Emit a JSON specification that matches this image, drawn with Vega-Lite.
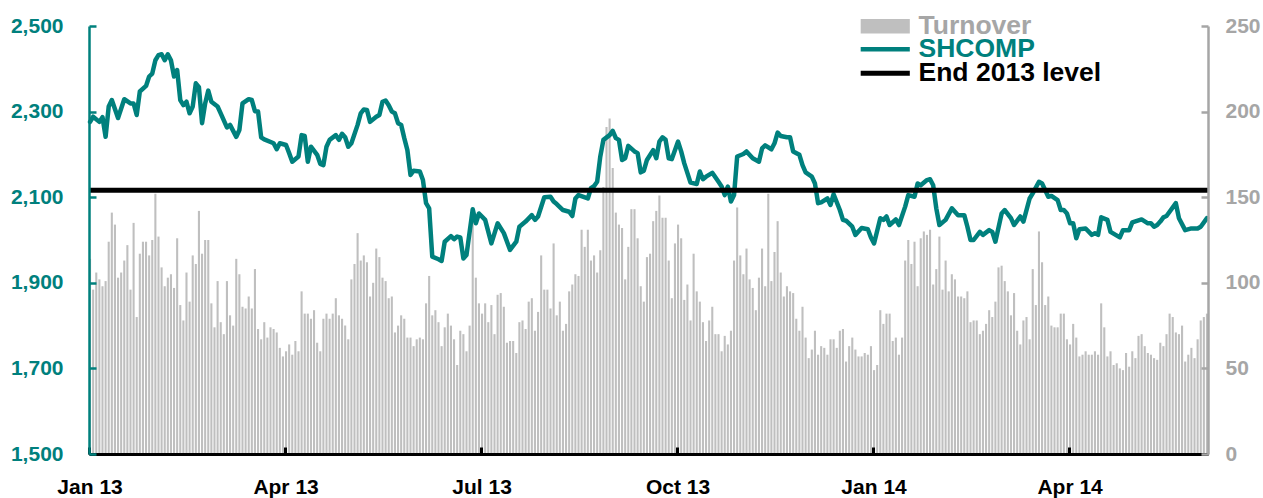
{
"$schema": "https://vega.github.io/schema/vega-lite/v6.json",
"width": 1119,
"height": 428,
"autosize": {"type": "none"},
"padding": {"left": 89, "top": 26, "right": 55, "bottom": 44},
"background": "#ffffff",
"config": {"view": {"stroke": null}, "font": "Liberation Sans",
"legend": {"title": null, "orient": "none", "padding": 0, "symbolSize": 256, "labelFont": "Liberation Sans", "labelFontSize": 26.5, "labelFontWeight": "bold", "labelOffset": 20, "labelLimit": 400}},
"datasets": {
"level": [{"label": "End 2013 level", "value": 2116}],
"daily": [
{"d":"2013-01-04","t":114,"s":2276},{"d":"2013-01-07","t":96,"s":2288},{"d":"2013-01-08","t":106},{"d":"2013-01-09","t":102,"s":2276},{"d":"2013-01-10","t":98,"s":2287},
{"d":"2013-01-11","t":101,"s":2241},{"d":"2013-01-14","t":124,"s":2312},{"d":"2013-01-15","t":141,"s":2327},{"d":"2013-01-16","t":134},{"d":"2013-01-17","t":103,"s":2285},
{"d":"2013-01-18","t":106},{"d":"2013-01-21","t":113,"s":2329},{"d":"2013-01-22","t":122},{"d":"2013-01-23","t":96,"s":2319},{"d":"2013-01-24","t":135,"s":2319},
{"d":"2013-01-25","t":80,"s":2292},{"d":"2013-01-28","t":117,"s":2347},{"d":"2013-01-29","t":124},{"d":"2013-01-30","t":124,"s":2360},{"d":"2013-01-31","t":116,"s":2382},
{"d":"2013-02-01","t":125,"s":2389},{"d":"2013-02-04","t":152,"s":2420},{"d":"2013-02-05","t":127,"s":2432},{"d":"2013-02-06","t":109,"s":2434},{"d":"2013-02-07","t":98,"s":2420},
{"d":"2013-02-08","t":103,"s":2434},{"d":"2013-02-18","t":105,"s":2420},{"d":"2013-02-19","t":97,"s":2382},{"d":"2013-02-20","t":126,"s":2397},{"d":"2013-02-21","t":87,"s":2327},
{"d":"2013-02-22","t":78,"s":2315},{"d":"2013-02-25","t":106,"s":2323},{"d":"2013-02-26","t":89,"s":2296},{"d":"2013-02-27","t":116,"s":2312},{"d":"2013-02-28","t":111,"s":2366},
{"d":"2013-03-01","t":142,"s":2357},{"d":"2013-03-04","t":117,"s":2273},{"d":"2013-03-05","t":125,"s":2319},{"d":"2013-03-06","t":125,"s":2349},{"d":"2013-03-07","t":88,"s":2323},
{"d":"2013-03-08","t":74},{"d":"2013-03-11","t":101,"s":2312},{"d":"2013-03-12","t":77,"s":2296},{"d":"2013-03-13","t":70},{"d":"2013-03-14","t":101,"s":2263},
{"d":"2013-03-15","t":81,"s":2269},{"d":"2013-03-18","t":75},{"d":"2013-03-19","t":114,"s":2241},{"d":"2013-03-20","t":105,"s":2257},{"d":"2013-03-21","t":86,"s":2319},
{"d":"2013-03-22","t":85},{"d":"2013-03-25","t":92,"s":2329},{"d":"2013-03-26","t":85,"s":2327},{"d":"2013-03-27","t":108,"s":2301},{"d":"2013-03-28","t":73,"s":2300},
{"d":"2013-03-29","t":67,"s":2240},{"d":"2013-04-01","t":77,"s":2235},{"d":"2013-04-02","t":68},{"d":"2013-04-03","t":74},{"d":"2013-04-08","t":73,"s":2226},
{"d":"2013-04-09","t":71,"s":2212},{"d":"2013-04-10","t":62,"s":2226},{"d":"2013-04-11","t":57},{"d":"2013-04-12","t":60,"s":2222},{"d":"2013-04-15","t":64,"s":2203},
{"d":"2013-04-16","t":58,"s":2183},{"d":"2013-04-17","t":66},{"d":"2013-04-18","t":60,"s":2195},{"d":"2013-04-19","t":95,"s":2245},{"d":"2013-04-22","t":82,"s":2243},
{"d":"2013-04-23","t":82,"s":2183},{"d":"2013-04-24","t":79,"s":2218},{"d":"2013-04-25","t":84},{"d":"2013-04-26","t":65,"s":2199},{"d":"2013-05-02","t":60,"s":2178},
{"d":"2013-05-03","t":79,"s":2175},{"d":"2013-05-06","t":82,"s":2218},{"d":"2013-05-07","t":79,"s":2234},{"d":"2013-05-08","t":82},{"d":"2013-05-09","t":91,"s":2245},
{"d":"2013-05-10","t":81,"s":2234},{"d":"2013-05-13","t":79,"s":2248},{"d":"2013-05-14","t":75,"s":2240},{"d":"2013-05-15","t":67,"s":2218},{"d":"2013-05-16","t":102,"s":2226},
{"d":"2013-05-17","t":111},{"d":"2013-05-20","t":129,"s":2269},{"d":"2013-05-21","t":113,"s":2296},{"d":"2013-05-22","t":116,"s":2305},{"d":"2013-05-23","t":112,"s":2304},
{"d":"2013-05-24","t":92,"s":2276},{"d":"2013-05-27","t":100},{"d":"2013-05-28","t":120,"s":2288},{"d":"2013-05-29","t":115,"s":2292},{"d":"2013-05-30","t":103,"s":2323},
{"d":"2013-05-31","t":101,"s":2326},{"d":"2013-06-03","t":91,"s":2315},{"d":"2013-06-04","t":92,"s":2300},{"d":"2013-06-05","t":71,"s":2296},{"d":"2013-06-06","t":75,"s":2273},
{"d":"2013-06-07","t":81,"s":2269},{"d":"2013-06-13","t":79,"s":2238},{"d":"2013-06-14","t":68,"s":2210},{"d":"2013-06-17","t":68,"s":2152},{"d":"2013-06-18","t":63,"s":2162},
{"d":"2013-06-19","t":67},{"d":"2013-06-20","t":68,"s":2160},{"d":"2013-06-21","t":67,"s":2140},{"d":"2013-06-24","t":88,"s":2086},{"d":"2013-06-25","t":104,"s":2074},
{"d":"2013-06-26","t":81,"s":1961},{"d":"2013-06-27","t":84},{"d":"2013-06-28","t":77,"s":1955},{"d":"2013-07-01","t":63,"s":1951},{"d":"2013-07-02","t":74,"s":1996},
{"d":"2013-07-03","t":82},{"d":"2013-07-04","t":75,"s":2009},{"d":"2013-07-05","t":67,"s":2002},{"d":"2013-07-08","t":52,"s":2008},{"d":"2013-07-09","t":72,"s":2006},
{"d":"2013-07-10","t":70,"s":1957},{"d":"2013-07-11","t":60,"s":1965},{"d":"2013-07-12","t":75},{"d":"2013-07-15","t":140,"s":2072},{"d":"2013-07-16","t":103,"s":2039},
{"d":"2013-07-17","t":88,"s":2062},{"d":"2013-07-18","t":82},{"d":"2013-07-19","t":88,"s":2047},{"d":"2013-07-22","t":77},{"d":"2013-07-23","t":87,"s":1992},
{"d":"2013-07-24","t":70},{"d":"2013-07-25","t":93,"s":2039},{"d":"2013-07-26","t":94},{"d":"2013-07-29","t":86,"s":2016},{"d":"2013-07-30","t":65},
{"d":"2013-07-31","t":66,"s":1977},{"d":"2013-08-01","t":66},{"d":"2013-08-02","t":59,"s":1996},{"d":"2013-08-05","t":77,"s":2031},{"d":"2013-08-06","t":78},
{"d":"2013-08-07","t":73,"s":2043},{"d":"2013-08-08","t":89},{"d":"2013-08-09","t":91,"s":2058},{"d":"2013-08-12","t":72,"s":2047},{"d":"2013-08-13","t":83,"s":2055},
{"d":"2013-08-14","t":116},{"d":"2013-08-15","t":96,"s":2100},{"d":"2013-08-16","t":96},{"d":"2013-08-19","t":85,"s":2101},{"d":"2013-08-20","t":123,"s":2090},
{"d":"2013-08-21","t":81,"s":2084},{"d":"2013-08-22","t":89},{"d":"2013-08-23","t":72,"s":2070},{"d":"2013-08-26","t":76},{"d":"2013-08-27","t":95,"s":2066},
{"d":"2013-08-28","t":99,"s":2056},{"d":"2013-08-29","t":105,"s":2097},{"d":"2013-08-30","t":104,"s":2105},{"d":"2013-09-02","t":131},{"d":"2013-09-03","t":121},
{"d":"2013-09-04","t":131,"s":2097},{"d":"2013-09-05","t":113,"s":2121},{"d":"2013-09-06","t":116,"s":2126},{"d":"2013-09-09","t":106,"s":2136},{"d":"2013-09-10","t":119,"s":2195},
{"d":"2013-09-11","t":156,"s":2234},{"d":"2013-09-12","t":191},{"d":"2013-09-13","t":196,"s":2245},{"d":"2013-09-16","t":167,"s":2255},{"d":"2013-09-17","t":141,"s":2238},
{"d":"2013-09-18","t":134,"s":2234},{"d":"2013-09-23","t":132,"s":2187},{"d":"2013-09-24","t":102,"s":2191},{"d":"2013-09-25","t":121,"s":2220},{"d":"2013-09-26","t":143},
{"d":"2013-09-27","t":143,"s":2207},{"d":"2013-09-30","t":126,"s":2203},{"d":"2013-10-08","t":98,"s":2158},{"d":"2013-10-09","t":89,"s":2162},{"d":"2013-10-10","t":115,"s":2187},
{"d":"2013-10-11","t":117},{"d":"2013-10-14","t":136,"s":2210},{"d":"2013-10-15","t":142,"s":2191},{"d":"2013-10-16","t":151,"s":2230},{"d":"2013-10-17","t":138,"s":2240},
{"d":"2013-10-18","t":138,"s":2234},{"d":"2013-10-21","t":113,"s":2191},{"d":"2013-10-22","t":91,"s":2189},{"d":"2013-10-23","t":123},{"d":"2013-10-24","t":134,"s":2230},
{"d":"2013-10-25","t":126,"s":2207},{"d":"2013-10-28","t":90,"s":2179},{"d":"2013-10-29","t":99},{"d":"2013-10-30","t":78,"s":2134},{"d":"2013-10-31","t":117},
{"d":"2013-11-01","t":95,"s":2131},{"d":"2013-11-04","t":89,"s":2160},{"d":"2013-11-05","t":77,"s":2142},{"d":"2013-11-06","t":66,"s":2148},{"d":"2013-11-07","t":78},
{"d":"2013-11-08","t":86,"s":2157},{"d":"2013-11-11","t":70},{"d":"2013-11-12","t":70,"s":2136},{"d":"2013-11-13","t":60,"s":2125},{"d":"2013-11-14","t":69,"s":2105},
{"d":"2013-11-15","t":64,"s":2125},{"d":"2013-11-18","t":72,"s":2090},{"d":"2013-11-19","t":113,"s":2105},{"d":"2013-11-20","t":144,"s":2195},{"d":"2013-11-21","t":116},
{"d":"2013-11-22","t":105,"s":2201},{"d":"2013-11-25","t":120,"s":2207},{"d":"2013-11-26","t":102},{"d":"2013-11-27","t":97,"s":2191},{"d":"2013-11-28","t":84},
{"d":"2013-11-29","t":103,"s":2183},{"d":"2013-12-02","t":120,"s":2214},{"d":"2013-12-03","t":98,"s":2221},{"d":"2013-12-04","t":152},{"d":"2013-12-05","t":101,"s":2212},
{"d":"2013-12-06","t":118,"s":2226},{"d":"2013-12-09","t":136,"s":2251},{"d":"2013-12-10","t":106,"s":2243},{"d":"2013-12-11","t":92},{"d":"2013-12-12","t":98,"s":2240},
{"d":"2013-12-13","t":95,"s":2240},{"d":"2013-12-16","t":94,"s":2207},{"d":"2013-12-17","t":79},{"d":"2013-12-18","t":72,"s":2199},{"d":"2013-12-19","t":86,"s":2175},
{"d":"2013-12-20","t":68,"s":2158},{"d":"2013-12-23","t":56},{"d":"2013-12-24","t":61,"s":2148},{"d":"2013-12-25","t":72,"s":2132},{"d":"2013-12-26","t":58,"s":2086},
{"d":"2013-12-27","t":63,"s":2088},{"d":"2013-12-30","t":62},{"d":"2013-12-31","t":58,"s":2097},{"d":"2014-01-02","t":67,"s":2082},{"d":"2014-01-03","t":67,"s":2107},
{"d":"2014-01-06","t":62},{"d":"2014-01-07","t":72,"s":2070},{"d":"2014-01-08","t":73,"s":2047},{"d":"2014-01-09","t":54,"s":2045},{"d":"2014-01-10","t":63},
{"d":"2014-01-13","t":68,"s":2031},{"d":"2014-01-14","t":61,"s":2012},{"d":"2014-01-15","t":57},{"d":"2014-01-16","t":57,"s":2028},{"d":"2014-01-17","t":59},
{"d":"2014-01-20","t":58,"s":2025},{"d":"2014-01-21","t":63,"s":2006},{"d":"2014-01-22","t":49,"s":1992},{"d":"2014-01-23","t":52},{"d":"2014-01-24","t":84,"s":2051},
{"d":"2014-01-27","t":76,"s":2047},{"d":"2014-01-28","t":82,"s":2055},{"d":"2014-01-29","t":82,"s":2035},{"d":"2014-01-30","t":66},{"d":"2014-02-07","t":68,"s":2048},
{"d":"2014-02-10","t":58,"s":2035},{"d":"2014-02-11","t":68},{"d":"2014-02-12","t":113,"s":2078},{"d":"2014-02-13","t":125,"s":2105},{"d":"2014-02-14","t":111},
{"d":"2014-02-17","t":124,"s":2101},{"d":"2014-02-18","t":98,"s":2132},{"d":"2014-02-19","t":126,"s":2128},{"d":"2014-02-20","t":130},{"d":"2014-02-21","t":128,"s":2140},
{"d":"2014-02-24","t":131,"s":2142},{"d":"2014-02-25","t":99,"s":2128},{"d":"2014-02-26","t":108,"s":2074},{"d":"2014-02-27","t":127,"s":2035},{"d":"2014-02-28","t":96},
{"d":"2014-03-03","t":113,"s":2047},{"d":"2014-03-04","t":95},{"d":"2014-03-05","t":105,"s":2074},{"d":"2014-03-06","t":102},{"d":"2014-03-07","t":92,"s":2058},
{"d":"2014-03-10","t":92},{"d":"2014-03-11","t":91,"s":2058},{"d":"2014-03-12","t":95,"s":2031},{"d":"2014-03-13","t":77,"s":2000},{"d":"2014-03-14","t":78,"s":2000},
{"d":"2014-03-17","t":78},{"d":"2014-03-18","t":70,"s":2019},{"d":"2014-03-19","t":72,"s":2012},{"d":"2014-03-20","t":76},{"d":"2014-03-21","t":84,"s":2023},
{"d":"2014-03-24","t":80,"s":2019},{"d":"2014-03-25","t":89,"s":1996},{"d":"2014-03-26","t":109},{"d":"2014-03-27","t":110,"s":2062},{"d":"2014-03-28","t":101,"s":2070},
{"d":"2014-03-31","t":95},{"d":"2014-04-01","t":81,"s":2051},{"d":"2014-04-02","t":94,"s":2035},{"d":"2014-04-03","t":72},{"d":"2014-04-04","t":64,"s":2055},
{"d":"2014-04-08","t":78,"s":2043},{"d":"2014-04-09","t":80},{"d":"2014-04-10","t":67,"s":2097},{"d":"2014-04-11","t":108,"s":2109},{"d":"2014-04-14","t":87},
{"d":"2014-04-15","t":130,"s":2136},{"d":"2014-04-16","t":112,"s":2132},{"d":"2014-04-17","t":87},{"d":"2014-04-18","t":92,"s":2101},{"d":"2014-04-21","t":75,"s":2103},
{"d":"2014-04-22","t":74},{"d":"2014-04-23","t":74,"s":2093},{"d":"2014-04-24","t":82,"s":2070},{"d":"2014-04-25","t":82,"s":2070},{"d":"2014-04-28","t":67,"s":2062},
{"d":"2014-04-29","t":64,"s":2039},{"d":"2014-04-30","t":76,"s":2039},{"d":"2014-05-05","t":68,"s":2004},{"d":"2014-05-06","t":57,"s":2025},{"d":"2014-05-07","t":58},
{"d":"2014-05-08","t":60,"s":2027},{"d":"2014-05-09","t":58},{"d":"2014-05-12","t":58,"s":2012},{"d":"2014-05-13","t":60,"s":2016},{"d":"2014-05-14","t":58,"s":2012},
{"d":"2014-05-15","t":88,"s":2053},{"d":"2014-05-16","t":74},{"d":"2014-05-19","t":57,"s":2047},{"d":"2014-05-20","t":60,"s":2019},{"d":"2014-05-21","t":52},
{"d":"2014-05-22","t":53},{"d":"2014-05-23","t":50,"s":2006},{"d":"2014-05-26","t":49,"s":2023},{"d":"2014-05-27","t":59},{"d":"2014-05-28","t":51,"s":2023},
{"d":"2014-05-29","t":60,"s":2041},{"d":"2014-05-30","t":56},{"d":"2014-06-03","t":69},{"d":"2014-06-04","t":70,"s":2048},{"d":"2014-06-05","t":63},
{"d":"2014-06-06","t":59,"s":2039},{"d":"2014-06-09","t":58,"s":2039},{"d":"2014-06-10","t":56,"s":2031},{"d":"2014-06-11","t":55,"s":2035},{"d":"2014-06-12","t":65,"s":2043},
{"d":"2014-06-13","t":63,"s":2053},{"d":"2014-06-16","t":70,"s":2056},{"d":"2014-06-17","t":82},{"d":"2014-06-18","t":80},{"d":"2014-06-19","t":71,"s":2086},
{"d":"2014-06-20","t":70,"s":2051},{"d":"2014-06-23","t":75},{"d":"2014-06-24","t":54,"s":2023},{"d":"2014-06-25","t":58},{"d":"2014-06-26","t":62,"s":2027},
{"d":"2014-06-27","t":56},{"d":"2014-06-30","t":67,"s":2027},{"d":"2014-07-01","t":78,"s":2031},{"d":"2014-07-02","t":80},{"d":"2014-07-03","t":82,"s":2051}
]
},
"layer": [
{
"data": {"name": "daily"},
"mark": {"type": "bar"},
"encoding": {
"x": {"field": "d", "type": "ordinal", "scale": {"type": "band", "paddingInner": 0.33, "paddingOuter": 0},
"axis": {"values": ["2013-01-04","2013-04-12","2013-07-18","2013-10-24","2014-01-22","2014-04-29"],
"labelExpr": "utcFormat(toDate(datum.value), '%b %y')", "bandPosition": 0, "title": null, "labelAngle": 0,
"domainColor": "#000000", "domainWidth": 3, "tickColor": "#000000", "tickWidth": 3, "tickSize": -7,
"labelColor": "#000000", "labelFont": "Liberation Sans", "labelFontSize": 21, "labelFontWeight": "bold",
"labelPadding": 29, "labelOverlap": false, "grid": false, "zindex": 1}},
"y": {"field": "t", "type": "quantitative", "scale": {"domain": [0, 250], "nice": false},
"axis": {"orient": "right", "values": [0, 50, 100, 150, 200, 250], "title": null, "grid": false,
"domainColor": "#A6A6A6", "domainWidth": 2.5, "tickColor": "#A6A6A6", "tickWidth": 2.5, "tickSize": -7,
"labelColor": "#A6A6A6", "labelFont": "Liberation Sans", "labelFontSize": 21, "labelFontWeight": "bold", "labelPadding": 24, "zindex": 1}},
"color": {"datum": "Turnover", "type": "nominal",
"scale": {"domain": ["Turnover"], "range": ["#BFBFBF"]},
"legend": {"legendX": 783, "legendY": -13, "labelColor": "#A6A6A6",
"encode": {"symbols": {"update": {
"shape": {"value": "M-3.07,-0.9H3.07V0.9H-3.07Z"},
"fill": {"value": "#BFBFBF"}, "stroke": {"value": "transparent"}, "opacity": {"value": 1}
}}}}}
}
},
{
"data": {"name": "daily"},
"transform": [{"filter": "isValid(datum.s)"}],
"mark": {"type": "line", "strokeWidth": 4.5, "strokeJoin": "round", "strokeCap": "round"},
"encoding": {
"x": {"field": "d", "type": "ordinal", "scale": {"type": "band", "paddingInner": 0.33, "paddingOuter": 0}},
"y": {"field": "s", "type": "quantitative", "scale": {"domain": [1500, 2500], "nice": false, "zero": false},
"axis": {"orient": "left", "values": [1500, 1700, 1900, 2100, 2300, 2500], "format": ",d", "title": null, "grid": false,
"domainColor": "#00807D", "domainWidth": 2.5, "tickColor": "#00807D", "tickWidth": 2.5, "tickSize": -7,
"labelColor": "#00807D", "labelFont": "Liberation Sans", "labelFontSize": 21, "labelFontWeight": "bold", "labelPadding": 33, "zindex": 1}},
"color": {"datum": "SHCOMP", "type": "nominal",
"scale": {"domain": ["SHCOMP"], "range": ["#00807D"]},
"legend": {"legendX": 783, "legendY": 10, "labelColor": "#00807D",
"encode": {"symbols": {"update": {
"shape": {"value": "M-3.07,0H3.07"},
"fill": {"value": "transparent"}, "stroke": {"value": "#00807D"}, "strokeWidth": {"value": 4.5}, "opacity": {"value": 1}
}}}}}
}
},
{
"data": {"name": "level"},
"mark": {"type": "rule", "strokeWidth": 5},
"encoding": {
"y": {"field": "value", "type": "quantitative", "scale": {"domain": [1500, 2500], "nice": false, "zero": false}, "axis": null},
"color": {"datum": "End 2013 level", "type": "nominal",
"scale": {"domain": ["End 2013 level"], "range": ["#000000"]},
"legend": {"legendX": 783, "legendY": 34, "labelColor": "#000000",
"encode": {"symbols": {"update": {
"shape": {"value": "M-3.07,0H3.07"},
"fill": {"value": "transparent"}, "stroke": {"value": "#000000"}, "strokeWidth": {"value": 5}, "opacity": {"value": 1}
}}}}}
}
}
],
"resolve": {"scale": {"y": "independent", "color": "independent"}}
}
